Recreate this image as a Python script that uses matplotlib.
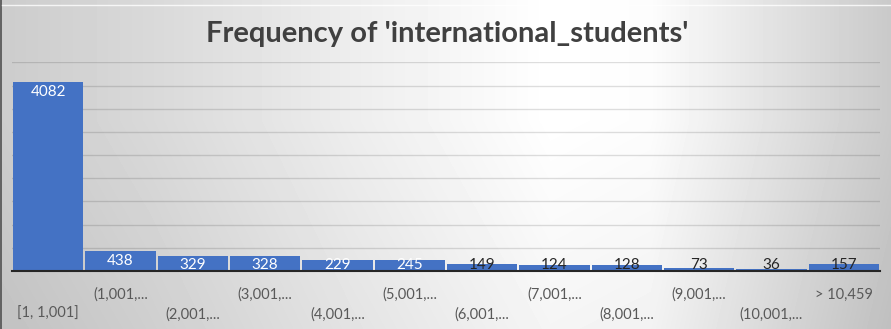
import numpy as np
import matplotlib
matplotlib.use("Agg")
import matplotlib.pyplot as plt

categories = ['[1, 1,001]', '(1,001,...', '(2,001,...', '(3,001,...', '(4,001,...',
              '(5,001,...', '(6,001,...', '(7,001,...', '(8,001,...', '(9,001,...',
              '(10,001,...', '> 10,459']
counts = [4082, 438, 329, 328, 229, 245, 149, 124, 128, 73, 36, 157]

W, H = 891, 329
plt.rcParams['font.family'] = ['Lato', 'DejaVu Sans']

fig = plt.figure(figsize=(W / 100, H / 100), dpi=100)

# gradient backdrop like the Excel chart area
bg = fig.add_axes([0, 0, 1, 1], zorder=0)
xs = np.arange(W)
ys = np.arange(H)
prof = np.interp(xs, [0, 150, 350, 550, 650, 780, 890], [0.80, 0.85, 0.93, 1.0, 0.99, 0.88, 0.79])
vert = np.interp(ys, [0, 120, 328], [0.0, 0.0, 0.04])
img = np.clip(prof[None, :] - vert[:, None], 0, 1)
bg.imshow(img, cmap='gray', vmin=0, vmax=1, aspect='auto', extent=(0, W, H, 0))
bg.set_xlim(0, W)
bg.set_ylim(H, 0)
bg.axis('off')
bg.plot([0.5, 0.5], [0, H], color='#505050', lw=1.2)
bg.plot([2, W], [5, 5], color='white', lw=1, alpha=0.8)

ax = fig.add_axes([12 / W, 58 / H, 868 / W, 208.6 / H], zorder=1)
ax.patch.set_alpha(0)
x = np.arange(len(categories))
ax.bar(x, counts, width=0.97, color='#4472C4', zorder=2)
ax.set_xlim(-0.5, len(categories) - 0.5)
ax.set_ylim(0, 4500)
ax.set_yticks(np.arange(500, 4501, 500))
ax.yaxis.grid(True, color='#000000', alpha=0.13, lw=1)
ax.tick_params(axis='y', left=False, labelleft=False)
for s in ['top', 'right', 'left']:
    ax.spines[s].set_visible(False)
ax.spines['bottom'].set_color('#262626')
ax.spines['bottom'].set_linewidth(1.5)
ax.spines['bottom'].set_zorder(3)

ax.set_xticks(x)
ax.set_xticklabels(categories, fontsize=10.5, color='#595959')
ax.tick_params(axis='x', length=0)
for i, t in enumerate(ax.xaxis.get_major_ticks()):
    t.set_pad(12 if i % 2 else 26)

for xi, v in zip(x, counts):
    yl = max(v - 215, 130)
    col = 'white' if v > 200 else '#262626'
    ax.text(xi, yl, str(v), ha='center', va='center', fontsize=11, color=col, zorder=4)

fig.text(0.502, 1 - 34 / H, "Frequency of 'international_students'", ha='center', va='center',
         fontsize=21, fontweight='bold', color='#404040')

fig.savefig('out.png', dpi=100)
